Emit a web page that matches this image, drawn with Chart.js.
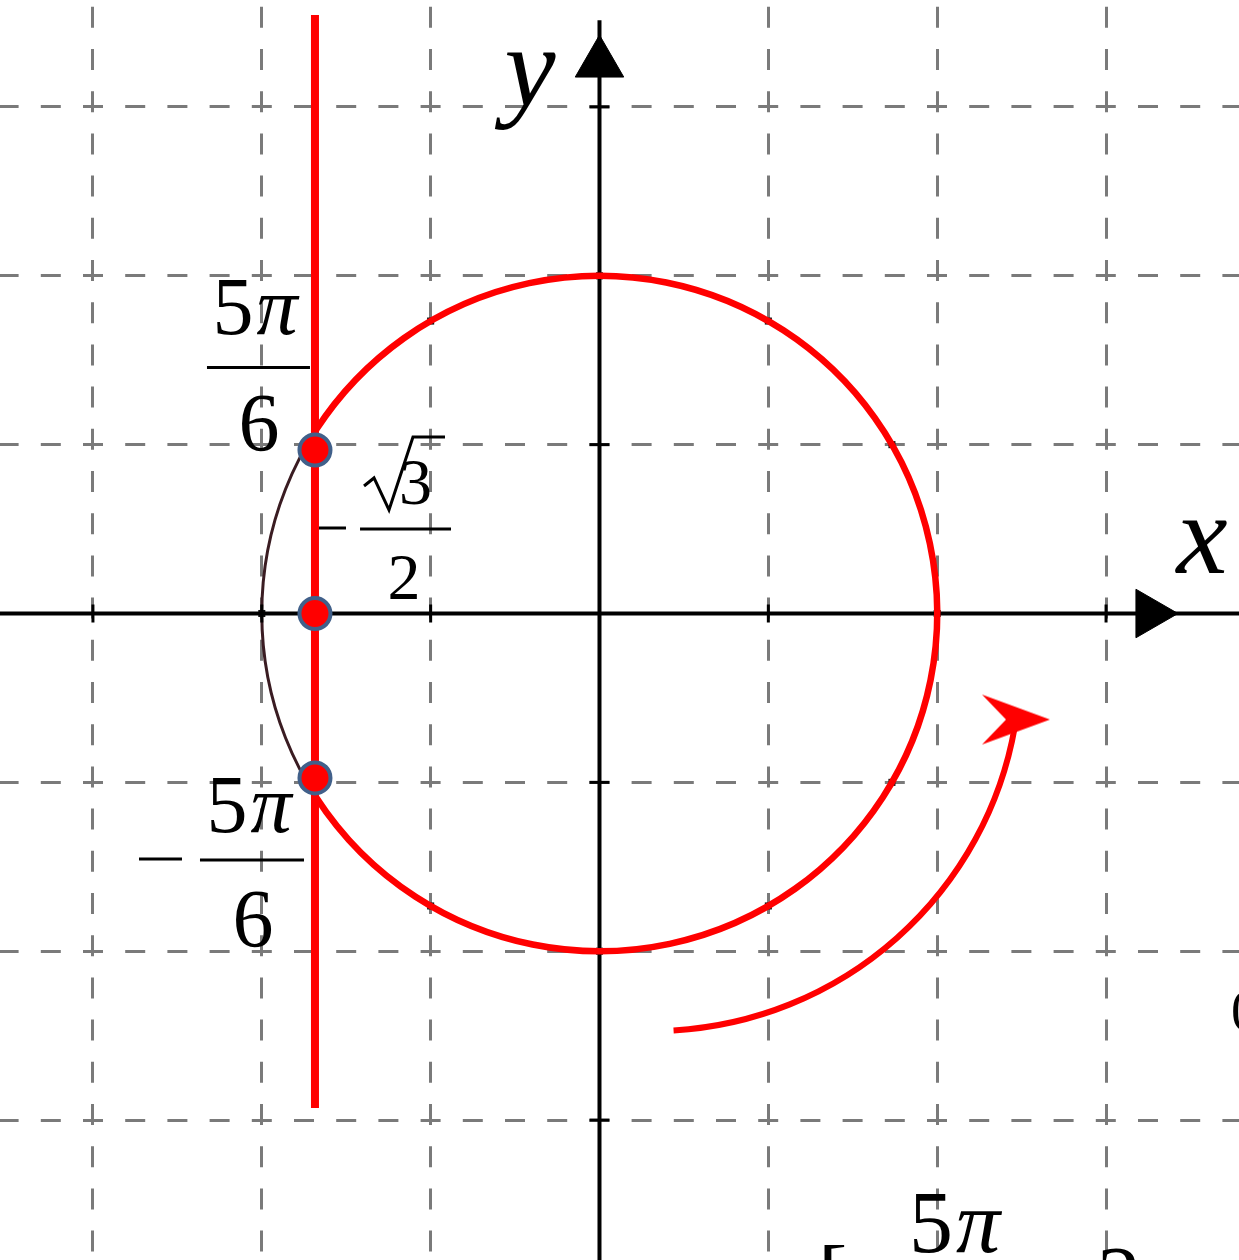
<!DOCTYPE html>
<html>
<head>
<meta charset="utf-8">
<script src="https://cdn.jsdelivr.net/npm/chart.js@4.4.1/dist/chart.umd.min.js"></script>
<style>
  html, body { margin: 0; padding: 0; background: #ffffff; }
  #wrap { width: 1239px; height: 1260px; position: relative; }
</style>
</head>
<body>
<div id="wrap"><canvas id="unitCircle"></canvas></div>
<script>
"use strict";
// window in data units (1 = radius of the unit circle, grid step 0.5)
const xRange = [-1.7752, 1.8937];
const yRange = [-1.9144, 1.8167];
const gridTicks = [-1.5, -1, -0.5, 0, 0.5, 1, 1.5];
const axisTicks = [-1.5, -1, -0.5, 0.5, 1, 1.5];

const unitRadius = 1;
const redArcDeg = [147, -147];          // red part of the circle, clockwise through 0
const markDotsX = [1, 0.866, 0.5, 0, -0.5, -1, -0.5, 0, 0.5, 0.866];
const markDotsY = [0, 0.5, 0.866, 1, 0.866, 0, -0.866, -1, -0.866, -0.5];

const chordX = -0.8425;                 // the line x = -sqrt(3)/2
const chordEnds = [1.772, -1.464];
const chordPointsY = [0.484, 0, -0.487];

const turnCenter = [0.1566, -0.1466];   // curved arrow (counter-clockwise)
const turnRadius = 1.0897;
const turnDeg = [-86.7, -10];
const turnHead = [1.2333, -0.3139];

const axisArrowAt = 1.63;

const gridColor = "#7a7a7a";
const red = "#ff0000";
const serif = "'Liberation Serif', 'Times New Roman', serif";

function makeArrowHead() {
  const c = document.createElement("canvas");
  c.width = 70; c.height = 52;
  const g = c.getContext("2d");
  g.fillStyle = red;
  g.beginPath();
  g.moveTo(69, 26); g.lineTo(1, 1); g.lineTo(25, 26); g.lineTo(1, 51);
  g.closePath();
  g.fill();
  return c;
}

function toPx(chart, x, y) {
  return [chart.scales.x.getPixelForValue(x), chart.scales.y.getPixelForValue(y)];
}
function unitPx(chart, r) {
  return chart.scales.x.getPixelForValue(r) - chart.scales.x.getPixelForValue(0);
}
function rad(deg) { return deg * Math.PI / 180; }

function seg(ctx, chart, x1, x2, y, w) {
  const a = toPx(chart, x1, y), b = toPx(chart, x2, y);
  ctx.lineWidth = w || 3;
  ctx.beginPath(); ctx.moveTo(a[0], a[1]); ctx.lineTo(b[0], b[1]); ctx.stroke();
}
function txt(ctx, chart, s, x, y, size, italic, align) {
  const p = toPx(chart, x, y);
  ctx.font = (italic ? "italic " : "") + size + "px " + serif;
  ctx.textAlign = align || "center";
  ctx.textBaseline = "alphabetic";
  ctx.fillText(s, p[0], p[1]);
}
// "5π" with upright digit and italic pi, centred on x
function fivePi(ctx, chart, x, y, size) {
  const p = toPx(chart, x, y);
  ctx.font = size + "px " + serif;
  const w5 = ctx.measureText("5").width;
  ctx.font = "italic " + size + "px " + serif;
  const wp = ctx.measureText("π").width;
  const left = p[0] - (w5 + wp + 3) / 2;
  ctx.textAlign = "left";
  ctx.textBaseline = "alphabetic";
  ctx.font = size + "px " + serif;
  ctx.fillText("5", left, p[1]);
  ctx.font = "italic " + size + "px " + serif;
  ctx.fillText("π", left + w5 + 3, p[1]);
}

const circlePlugin = {
  id: "circleParts",
  beforeDatasetsDraw(chart) {
    const ctx = chart.ctx;
    const c = toPx(chart, 0, 0);
    ctx.save();
    ctx.strokeStyle = "#3a1c22";
    ctx.lineWidth = 3;
    ctx.beginPath();
    ctx.arc(c[0], c[1], unitPx(chart, unitRadius), 0, Math.PI * 2);
    ctx.stroke();
    ctx.restore();
  },
  afterDatasetDraw(chart, args) {
    if (chart.data.datasets[args.index].label !== "x axis") return;
    const ctx = chart.ctx;
    ctx.save();
    ctx.strokeStyle = red;
    ctx.lineCap = "butt";
    const c = toPx(chart, 0, 0);
    ctx.lineWidth = 6.5;
    ctx.beginPath();
    ctx.arc(c[0], c[1], unitPx(chart, unitRadius), rad(-redArcDeg[0]), rad(-redArcDeg[1]), false);
    ctx.stroke();
    const t = toPx(chart, turnCenter[0], turnCenter[1]);
    ctx.lineWidth = 6;
    ctx.beginPath();
    ctx.arc(t[0], t[1], unitPx(chart, turnRadius), rad(-turnDeg[0]), rad(-turnDeg[1]), true);
    ctx.stroke();
    ctx.restore();
  },
  afterDraw(chart) {
    const ctx = chart.ctx;
    ctx.save();
    ctx.fillStyle = "#000000";
    ctx.strokeStyle = "#000000";
    // 5π/6 above the line
    fivePi(ctx, chart, -1.0201, 0.8277, 82);
    seg(ctx, chart, -1.1623, -0.8573, 0.7284);
    txt(ctx, chart, "6", -1.0083, 0.4842, 82);
    // -√3/2
    seg(ctx, chart, -0.8306, -0.7507, 0.2532);
    seg(ctx, chart, -0.7091, -0.4397, 0.2502);
    const rp = [[-0.6973, 0.3776], [-0.6677, 0.4013], [-0.6233, 0.3065], [-0.5523, 0.5226], [-0.4575, 0.5226]];
    ctx.lineWidth = 3;
    ctx.lineJoin = "miter";
    ctx.beginPath();
    rp.forEach((q, i) => {
      const p = toPx(chart, q[0], q[1]);
      if (i === 0) ctx.moveTo(p[0], p[1]); else ctx.lineTo(p[0], p[1]);
    });
    ctx.stroke();
    txt(ctx, chart, "3", -0.5937, 0.3243, 66, false, "left");
    txt(ctx, chart, "2", -0.579, 0.0429, 66);
    // -5π/6 below
    seg(ctx, chart, -1.3636, -1.2363, -0.727);
    fivePi(ctx, chart, -1.0379, -0.6473, 82);
    seg(ctx, chart, -1.183, -0.875, -0.7299);
    txt(ctx, chart, "6", -1.026, -0.986, 82);
    // axis names
    txt(ctx, chart, "y", -0.2058, 1.5028, 115, true);
    txt(ctx, chart, "x", 1.7841, 0.1199, 115, true);
    // cut-off text at the bottom and right edge
    fivePi(ctx, chart, 1.0512, -1.8907, 88);
    txt(ctx, chart, "[", 0.6469, -2.0544, 88, false, "left");
    txt(ctx, chart, "2", 1.4732, -2.0544, 88, false, "left");
    txt(ctx, chart, "0", 1.8698, -1.2336, 56, false, "left");
    ctx.restore();
  }
};

function gridScale(range, dash, offset) {
  return {
    type: "linear",
    min: range[0],
    max: range[1],
    afterBuildTicks: (scale) => { scale.ticks = gridTicks.map((v) => ({ value: v })); },
    ticks: { display: false },
    grid: {
      drawTicks: false,
      lineWidth: 3,
      color: (ctx) => (ctx.tick && ctx.tick.value === 0 ? "rgba(0,0,0,0)" : gridColor)
    },
    border: { display: false, dash: dash, dashOffset: offset }
  };
}

new Chart(document.getElementById("unitCircle"), {
  type: "scatter",
  data: {
    datasets: [
      {
        label: "points on x = -√3/2",
        data: chordPointsY.map((y) => ({ x: chordX, y: y })),
        pointRadius: 15.5,
        pointBorderWidth: 4,
        pointBackgroundColor: red,
        pointBorderColor: "#41608a"
      },
      {
        label: "turn head",
        data: [{ x: turnHead[0], y: turnHead[1] }],
        pointStyle: makeArrowHead(),
        pointRadius: 30
      },
      {
        label: "x = -√3/2",
        data: chordEnds.map((y) => ({ x: chordX, y: y })),
        showLine: true,
        borderColor: red,
        borderWidth: 8,
        pointRadius: 0
      },
      {
        label: "x axis",
        data: [{ x: xRange[0], y: 0 }, { x: xRange[1], y: 0 }],
        showLine: true,
        borderColor: "#000000",
        borderWidth: 4,
        pointRadius: 0
      },
      {
        label: "y axis",
        data: [{ x: 0, y: 1.757 }, { x: 0, y: yRange[0] }],
        showLine: true,
        borderColor: "#000000",
        borderWidth: 4,
        pointRadius: 0
      },
      {
        label: "axis arrows",
        data: [{ x: axisArrowAt, y: 0 }, { x: 0, y: axisArrowAt }],
        pointStyle: "triangle",
        pointRotation: [90, 0],
        pointRadius: 28,
        pointBorderWidth: 1,
        pointBackgroundColor: "#000000",
        pointBorderColor: "#000000"
      },
      {
        label: "x ticks",
        data: axisTicks.map((v) => ({ x: v, y: 0 })),
        pointStyle: "line",
        pointRotation: 90,
        pointRadius: 9,
        pointBorderWidth: 3,
        pointBorderColor: "#000000"
      },
      {
        label: "y ticks",
        data: axisTicks.map((v) => ({ x: 0, y: v })),
        pointStyle: "line",
        pointRotation: 0,
        pointRadius: 10,
        pointBorderWidth: 3,
        pointBorderColor: "#000000"
      },
      {
        label: "circle marks",
        data: markDotsX.map((x, i) => ({ x: x, y: markDotsY[i] })),
        pointStyle: "rect",
        pointRadius: 5,
        pointBorderWidth: 0,
        pointBackgroundColor: "#111111"
      }
    ]
  },
  options: {
    responsive: true,
    maintainAspectRatio: false,
    animation: false,
    events: [],
    layout: { padding: 0, autoPadding: false },
    plugins: { legend: { display: false }, tooltip: { enabled: false } },
    scales: {
      x: gridScale(xRange, [21, 21.2], 35.4),
      y: gridScale(yRange, [20, 22.2], 1.4)
    }
  },
  plugins: [circlePlugin]
});
</script>
</body>
</html>
